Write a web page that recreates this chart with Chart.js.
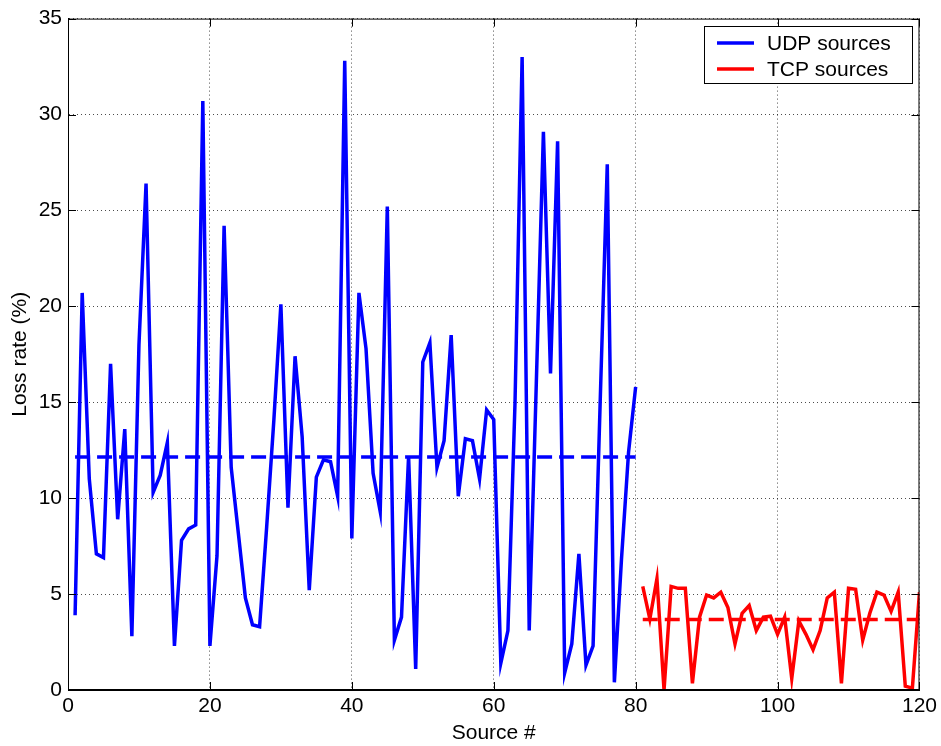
<!DOCTYPE html>
<html>
<head>
<meta charset="utf-8">
<script src="https://cdn.jsdelivr.net/npm/chart.js@4.4.0/dist/chart.umd.min.js"></script>
<style>
  html, body { margin: 0; padding: 0; background: #fff; }
  #wrap { width: 941px; height: 746px; }
</style>
</head>
<body>
<div id="wrap"><canvas id="lossChart" width="941" height="746"></canvas></div>
<script>
// loss rate per source
var udpLoss = [3.9, 20.7, 11.0, 7.1, 6.9, 17.0, 8.9, 13.6, 2.8, 18.0,
  26.4, 10.3, 11.2, 12.9, 2.3, 7.8, 8.4, 8.6, 30.7, 2.3,
  7.0, 24.2, 11.6, 8.2, 4.8, 3.4, 3.3, 8.5, 14.0, 20.1,
  9.5, 17.4, 13.2, 5.2, 11.1, 12.0, 11.9, 10.1, 32.8, 7.9,
  20.7, 17.8, 11.3, 9.3, 25.2, 2.6, 3.8, 12.2, 1.1, 17.1,
  18.1, 11.6, 13.0, 18.5, 10.1, 13.1, 13.0, 11.0, 14.6, 14.1,
  1.4, 3.1, 15.0, 33.0, 3.1, 16.0, 29.1, 16.5, 28.6, 0.9,
  2.4, 7.1, 1.3, 2.3, 15.0, 27.4, 0.4, 6.8, 12.4, 15.8];
var tcpLoss = [5.4, 3.7, 5.8, 0.0, 5.4, 5.3, 5.3, 0.35, 3.8, 4.95,
  4.8, 5.1, 4.3, 2.4, 4.0, 4.4, 3.1, 3.8, 3.85, 2.9,
  3.8, 0.6, 3.6, 2.9, 2.1, 3.1, 4.8, 5.1, 0.35, 5.3,
  5.25, 2.6, 4.0, 5.1, 4.95, 4.1, 5.1, 0.2, 0.1, 5.1];
var udpMean = 12.14;
var tcpMean = 3.68;
var firstUdp = 1;
var firstTcp = 81;

var xTicks = [0, 20, 40, 60, 80, 100, 120];
var yTicks = [0, 5, 10, 15, 20, 25, 30, 35];

function toPoints(vals, start) {
  return vals.map(function (v, i) { return { x: start + i, y: v }; });
}

var udpPts = toPoints(udpLoss, firstUdp);
var tcpPts = toPoints(tcpLoss, firstTcp);
var lastUdp = firstUdp + udpLoss.length - 1;
var lastTcp = firstTcp + tcpLoss.length - 1;

var fontFam = '"Liberation Sans", Arial, Helvetica, sans-serif';

// box frame, inward ticks, and the legend drawn inside the plot
var framePlugin = {
  id: 'frame',
  afterDraw: function (chart) {
    var ctx = chart.ctx;
    var a = chart.chartArea;
    var xs = chart.scales.x, ys = chart.scales.y;
    ctx.save();
    ctx.setLineDash([]);
    ctx.strokeStyle = '#000';
    ctx.lineWidth = 1;
    ctx.strokeRect(a.left + 0.5, a.top + 0.5, a.right - a.left - 1, a.bottom - a.top - 1);
    ctx.beginPath();
    xTicks.forEach(function (t) {
      var px = Math.round(xs.getPixelForValue(t)) + 0.5;
      ctx.moveTo(px, a.bottom); ctx.lineTo(px, a.bottom - 8);
      ctx.moveTo(px, a.top); ctx.lineTo(px, a.top + 8);
    });
    yTicks.forEach(function (t) {
      var py = Math.round(ys.getPixelForValue(t)) + 0.5;
      ctx.moveTo(a.left, py); ctx.lineTo(a.left + 8, py);
      ctx.moveTo(a.right, py); ctx.lineTo(a.right - 8, py);
    });
    ctx.stroke();

    // legend
    var items = chart.data.datasets.filter(function (d) { return d.inLegend; });
    var bx = 704, by = 26, bw = 208, bh = 57;
    ctx.fillStyle = '#fff';
    ctx.fillRect(bx, by, bw, bh);
    ctx.strokeStyle = '#000';
    ctx.strokeRect(bx + 0.5, by + 0.5, bw, bh);
    ctx.font = '21px ' + fontFam;
    ctx.textBaseline = 'middle';
    items.forEach(function (d, i) {
      var cy = by + 17 + i * 26;
      ctx.strokeStyle = d.borderColor;
      ctx.lineWidth = 3.5;
      ctx.beginPath();
      ctx.moveTo(bx + 13, cy); ctx.lineTo(bx + 50, cy);
      ctx.stroke();
      ctx.fillStyle = '#000';
      ctx.fillText(d.label, bx + 63, cy + 1);
    });
    ctx.restore();
  }
};

var lossCanvas = document.getElementById('lossChart');

var lossChart = new Chart(lossCanvas, {
  type: 'line',
  data: {
    datasets: [
      {
        label: 'UDP sources',
        data: udpPts,
        borderColor: '#0000ff',
        borderWidth: 3.5,
        pointRadius: 0,
        tension: 0,
        fill: false,
        inLegend: true
      },
      {
        label: 'TCP sources',
        data: tcpPts,
        borderColor: '#ff0000',
        borderWidth: 3.5,
        pointRadius: 0,
        tension: 0,
        fill: false,
        inLegend: true
      },
      {
        label: 'UDP mean',
        data: [{ x: firstUdp, y: udpMean }, { x: lastUdp, y: udpMean }],
        borderColor: '#0000ff',
        borderWidth: 3.5,
        borderDash: [15, 7],
        pointRadius: 0,
        fill: false
      },
      {
        label: 'TCP mean',
        data: [{ x: firstTcp, y: tcpMean }, { x: lastTcp, y: tcpMean }],
        borderColor: '#ff0000',
        borderWidth: 3.5,
        borderDash: [15, 7],
        pointRadius: 0,
        fill: false
      }
    ]
  },
  options: {
    responsive: false,
    animation: false,
    layout: { padding: { top: 18, right: 18, left: 0, bottom: 0 } },
    plugins: {
      legend: { display: false },
      tooltip: { enabled: false }
    },
    scales: {
      x: {
        type: 'linear',
        min: 0,
        max: 120,
        afterFit: function (s) { s.height = 56; },
        afterBuildTicks: function (s) { s.ticks = xTicks.map(function (v) { return { value: v }; }); },
        ticks: { color: '#000', font: { family: fontFam, size: 21 }, padding: 4, maxRotation: 0 },
        grid: { color: 'rgba(0,0,0,0.7)', drawTicks: false, lineWidth: 1 },
        border: { display: true, color: '#000', dash: [1, 3] },
        title: { display: true, text: 'Source #', color: '#000', font: { family: fontFam, size: 21 }, padding: { top: 0, bottom: 0 } }
      },
      y: {
        type: 'linear',
        min: 0,
        max: 35,
        afterFit: function (s) { s.width = 68; },
        afterBuildTicks: function (s) { s.ticks = yTicks.map(function (v) { return { value: v }; }); },
        ticks: { color: '#000', font: { family: fontFam, size: 21 }, padding: 6 },
        grid: { color: 'rgba(0,0,0,0.7)', drawTicks: false, lineWidth: 1 },
        border: { display: true, color: '#000', dash: [1, 3] },
        title: { display: true, text: 'Loss rate (%)', color: '#000', font: { family: fontFam, size: 21 }, padding: { top: 8, bottom: 0 } }
      }
    }
  },
  plugins: [framePlugin]
});
</script>
</body>
</html>
